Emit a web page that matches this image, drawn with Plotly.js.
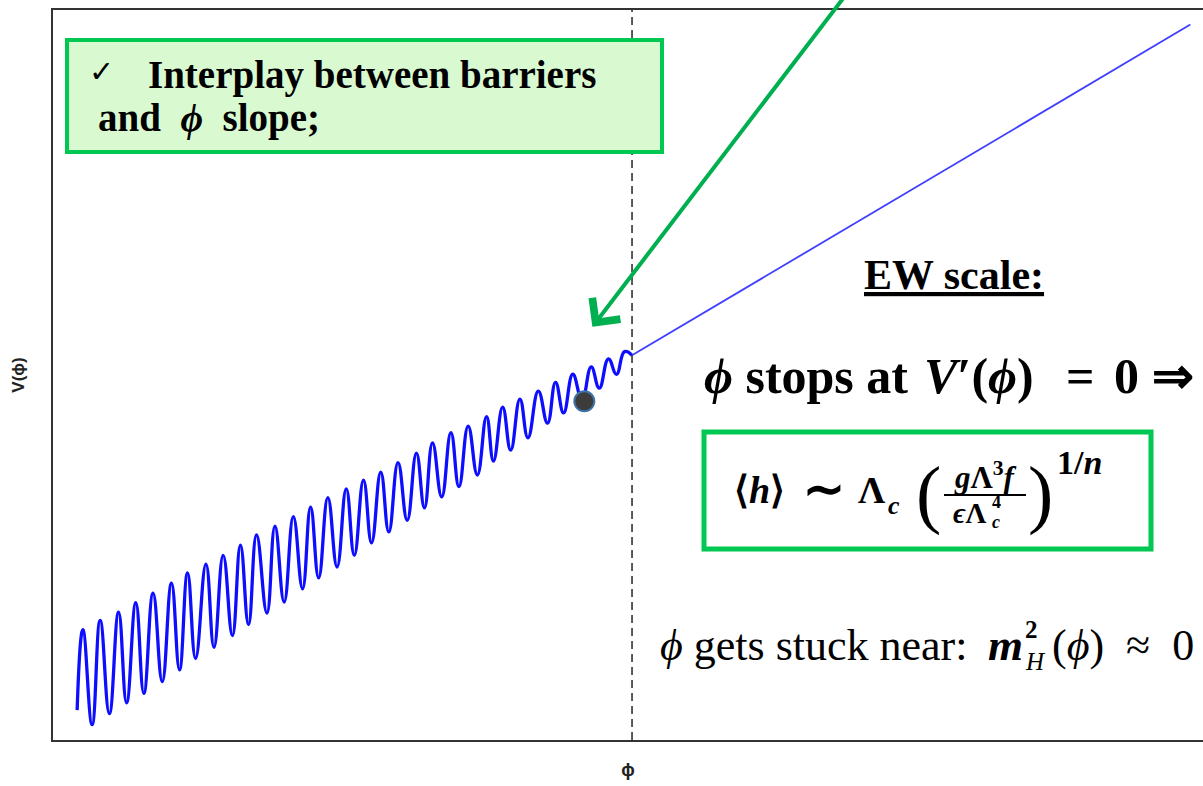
<!DOCTYPE html>
<html>
<head>
<meta charset="utf-8">
<script src="https://cdn.plot.ly/plotly-3.0.1.min.js"></script>
<style>
  html, body { margin: 0; padding: 0; background: #fff; overflow: hidden; }
  #chart { width: 1203px; height: 786px; }
</style>
</head>
<body>
<div id="chart"></div>
<script>
// Relaxion potential V(phi): wiggles of the barriers on top of the linear slope,
// which switch off at the critical point (dashed line), then the plain slope.
const phiWiggle = [2.1,2.6,3.4,4.1,4.9,5.7,6.4,7.2,7.9,8.7,9.5,10.3,11.0,11.7,12.4,13.3,14.0,14.8,15.6,16.3,
  17.0,17.7,18.6,19.3,20.1,20.9,21.7,22.4,23.1,23.9,24.7,25.5,26.2,27.0,27.7,28.5,29.2,30.0,30.8,31.6,
  32.3,33.0,33.8,34.6,35.3,36.1,36.9,37.7,38.3,39.1,39.8,40.6,41.3,42.2,43.0,43.7,44.4,45.2,46.0,46.8,
  47.5,48.3,49.0,49.7,50.35];
const vWiggle = [4.1,15.1,2.1,16.4,3.6,17.5,5.1,18.8,6.4,20.1,8.0,21.5,9.6,22.9,11.2,24.1,12.7,25.3,14.3,26.7,
  15.8,28.1,17.4,29.3,18.9,30.6,20.7,31.9,22.2,33.2,23.7,34.4,25.3,35.6,27.0,36.7,28.5,38.0,30.1,39.3,
  31.8,40.7,33.3,42.1,34.7,43.0,36.3,44.3,38.2,45.6,39.7,46.7,41.4,47.8,43.4,49.0,44.8,50.1,46.6,51.1,
  48.2,52.2,50.1,53.2,52.7];

// linear slope beyond the critical point
const phiSlope = [50.35, 98.9];
const vSlope = [52.7, 98.0];

// where the field is stuck
const phiBall = [46.2];
const vBall = [46.4];

// critical value of phi (dashed line)
const phiCritical = 50.35;

// arrow pointing at the barriers: tail (off the top) and tip
const arrowTail = [70.6, 105.5];
const arrowTip = [46.9, 56.6];

const SERIF = 'Liberation Serif, Times New Roman, serif';
const GREEN = '#00c853';
const NB = '\u00a0';

// page pixel -> paper fraction for the text overlay
const ML = 53, MT = 10, PW = 1150, PH = 730;
const px = x => (x - ML) / PW;
const py = y => (MT + PH - y) / PH;

function note(text, x, y, size, extra) {
  return Object.assign({
    xref: 'paper', yref: 'paper', x: px(x), y: py(y), text: text,
    showarrow: false, xanchor: 'left', yanchor: 'middle',
    font: { family: SERIF, size: size, color: '#000' }
  }, extra || {});
}

const traces = [
  { x: phiWiggle, y: vWiggle, mode: 'lines', line: { color: '#0d0dff', width: 3.3, shape: 'spline', smoothing: 1.3 }, hoverinfo: 'skip' },
  { x: phiSlope, y: vSlope, mode: 'lines', line: { color: '#4040ff', width: 1.8 }, hoverinfo: 'skip' },
  { x: phiBall, y: vBall, mode: 'markers', marker: { size: 20, color: '#3c3c3c', line: { color: '#3f72a6', width: 2 } }, hoverinfo: 'skip' }
];

const annotations = [
  // arrow
  { x: arrowTip[0], y: arrowTip[1], ax: arrowTail[0], ay: arrowTail[1], xref: 'x', yref: 'y', axref: 'x', ayref: 'y',
    text: '', showarrow: true, arrowhead: 4, arrowsize: 1.7, arrowwidth: 4, arrowcolor: '#00b050', standoff: 0 },

  // top-left box
  note('✓', 87, 72, 30, { font: { family: 'DejaVu Sans', size: 30, color: '#000' } }),
  note('<b>Interplay between barriers</b>', 146, 75, 39),
  note('<b>and' + NB + ' <i>ϕ</i>' + NB + ' slope;</b>', 96, 118, 39),

  // right-hand text
  note('<b><u>EW scale:</u></b>', 954, 275, 42, { xanchor: 'center' }),
  note('<b><i>ϕ</i> stops at</b>', 702, 376, 50),
  note('<b><i>V</i>′(<i>ϕ</i>)</b>', 922, 376, 50),
  note('<b>=</b>', 1080, 376, 50, { xanchor: 'center' }),
  note('<b>0</b>', 1126, 376, 50, { xanchor: 'center' }),
  note('<b>⇒</b>', 1150, 376, 50),

  // boxed formula
  note('<b>⟨<i>h</i>⟩</b>', 732, 490, 38),
  note('<b>∼</b>', 824, 489, 50, { xanchor: 'center' }),
  note('<b>Λ</b>', 856, 490, 38),
  note('<b><i>c</i></b>', 886, 505, 26),
  note('(', 928, 494, 76, { xanchor: 'center' }),
  note('<b><i>g</i>Λ<sup>3</sup><i>f</i></b>', 985, 475, 31, { xanchor: 'center' }),
  note('<b><i>ϵ</i>Λ</b>', 951, 513, 29),
  note('<b>4</b>', 990, 502, 18),
  note('<b><i>c</i></b>', 990, 522, 18),
  note(')', 1040, 494, 76, { xanchor: 'center' }),
  note('<b>1/<i>n</i></b>', 1055, 463, 34),

  // bottom line
  note('<i>ϕ</i> gets stuck near:', 658, 645, 44),
  note('<b><i>m</i></b>', 986, 645, 45),
  note('<b>2</b>', 1023, 629, 25),
  note('<i>H</i>', 1023, 661, 25),
  note('(<i>ϕ</i>)' + NB + ' ≈' + NB + ' 0', 1050, 645, 44)
];

const shapes = [
  // critical point
  { type: 'line', xref: 'x', yref: 'paper', x0: phiCritical, x1: phiCritical, y0: 0, y1: 1,
    line: { color: '#333', width: 1.6, dash: '8px,5px' } },
  // top-left box
  { type: 'rect', xref: 'paper', yref: 'paper', x0: px(67), x1: px(662), y0: py(152), y1: py(40),
    fillcolor: '#d9f9d0', line: { color: GREEN, width: 4 }, layer: 'above' },
  // formula box
  { type: 'rect', xref: 'paper', yref: 'paper', x0: px(704), x1: px(1151), y0: py(549), y1: py(432),
    fillcolor: 'rgba(255,255,255,0)', line: { color: GREEN, width: 5 }, layer: 'above' },
  // fraction bar
  { type: 'line', xref: 'paper', yref: 'paper', x0: px(944), x1: px(1026), y0: py(495), y1: py(495),
    line: { color: '#000', width: 2 } }
];

const layout = {
  width: 1203, height: 786,
  margin: { l: ML, r: 0, t: MT, b: 786 - MT - PH },
  paper_bgcolor: '#fff', plot_bgcolor: '#fff',
  showlegend: false,
  xaxis: {
    range: [0, 100], showgrid: false, zeroline: false, showticklabels: false, ticks: '',
    showline: true, linecolor: '#333', linewidth: 2, mirror: true,
    title: { text: '<b>ϕ</b>', font: { family: 'Liberation Sans, Arial, sans-serif', size: 18, color: '#222' }, standoff: 22 }
  },
  yaxis: {
    range: [0, 100], showgrid: false, zeroline: false, showticklabels: false, ticks: '',
    showline: true, linecolor: '#333', linewidth: 2, mirror: false,
    title: { text: '<b>V(ϕ)</b>', font: { family: 'Liberation Sans, Arial, sans-serif', size: 17, color: '#222' }, standoff: 22 }
  },
  annotations: annotations,
  shapes: shapes
};

Plotly.newPlot('chart', traces, layout, { staticPlot: true, displayModeBar: false });
</script>
</body>
</html>
